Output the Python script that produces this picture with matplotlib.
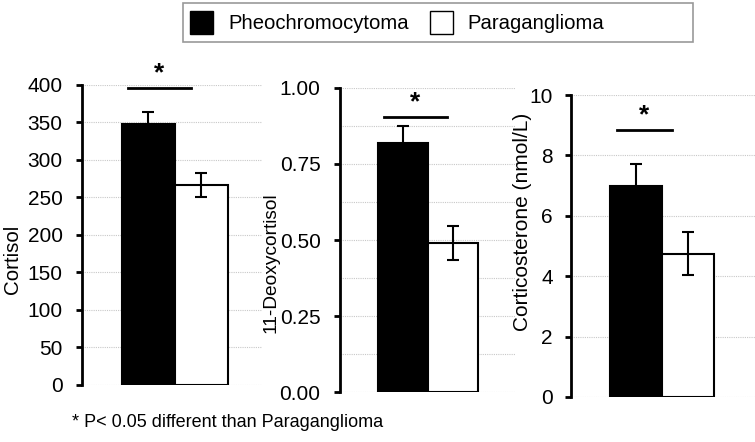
import matplotlib.pyplot as plt
from matplotlib.patches import Patch, Rectangle
from matplotlib import font_manager

names = {f.name for f in font_manager.fontManager.ttflist}
narrow = 'Liberation Sans Narrow' if 'Liberation Sans Narrow' in names else 'Liberation Sans'
plt.rcParams['font.family'] = [narrow, 'DejaVu Sans']

groups = ["Pheochromocytoma", "Paraganglioma"]
labels = ["Cortisol", "11-Deoxycortisol", "Corticosterone (nmol/L)"]
pheo = [348, 0.82, 7.0]
para = [266, 0.49, 4.75]
pheo_err = [16, 0.055, 0.72]
para_err = [16, 0.055, 0.7]
ymax = [400, 1.0, 10]
yticks = [[0, 50, 100, 150, 200, 250, 300, 350, 400],
          [0.0, 0.25, 0.5, 0.75, 1.0],
          [0, 2, 4, 6, 8, 10]]
tick_fmt = ["{:.0f}", "{:.2f}", "{:.0f}"]
grid_step = [50, 0.125, 2]
sig_y = [396, 0.905, 8.84]
sig_x = [(-0.39, 0.80), (-0.38, 0.88), (-0.37, 0.69)]
star_y = [400, 0.912, 8.92]

# axes boxes in figure fractions
boxes = [(0.1086, 0.129, 0.2384, 0.679),
         (0.4503, 0.113, 0.2317, 0.688),
         (0.7563, 0.102, 0.2437, 0.683)]
xlims = [(-1.25, 2.15), (-1.26, 2.24), (-1.25, 2.29)]
label_pos = [(-0.333, 0.42), (-0.345, 0.424), (-0.212, 0.58)]
label_size = [14.8, 13.8, 15.0]
tick_pad = [10, 10, 9]

fig = plt.figure(figsize=(7.55, 4.42), dpi=100)

for i in range(3):
    ax = fig.add_axes(boxes[i])
    for y in [k * grid_step[i] for k in range(int(round(ymax[i] / grid_step[i])) + 1)]:
        ax.axhline(y, color='#c8c8c8', lw=0.8, ls=(0, (1, 1)), zorder=0)
    ax.bar([0], [pheo[i]], width=1.0, color='black', edgecolor='black', lw=1.5, zorder=2)
    ax.bar([1], [para[i]], width=1.0, color='white', edgecolor='black', lw=1.5, zorder=2)
    ax.errorbar([0, 1], [pheo[i], para[i]], yerr=[pheo_err[i], para_err[i]],
                fmt='none', ecolor='black', elinewidth=1.5, capsize=4, capthick=1.5, zorder=3)
    ax.plot(sig_x[i], [sig_y[i], sig_y[i]], color='black', lw=2, clip_on=False, zorder=4)
    ax.text(sum(sig_x[i]) / 2, star_y[i], "*", ha='center', va='bottom',
            fontsize=19, fontweight='bold', family='Liberation Sans')
    ax.set_xlim(*xlims[i])
    ax.set_ylim(0, ymax[i])
    ax.set_yticks(yticks[i])
    ax.set_yticklabels([tick_fmt[i].format(t) for t in yticks[i]], fontsize=15)
    ax.set_xticks([])
    for s in ['top', 'right', 'bottom']:
        ax.spines[s].set_visible(False)
    ax.spines['left'].set_linewidth(2)
    ax.tick_params(axis='y', direction='out', length=4, width=2, pad=tick_pad[i])
    ax.set_ylabel(labels[i], fontsize=label_size[i])
    ax.yaxis.set_label_coords(*label_pos[i])
    ax.patch.set_alpha(0)

# legend frame (drawn by hand, the reference box is wider on the right)
fig.patches.append(Rectangle((183 / 755, 1 - 42 / 442), 510 / 755, 39 / 442,
                             transform=fig.transFigure, facecolor='white',
                             edgecolor='#999999', lw=1.2, zorder=0))
handles = [Patch(facecolor='black', edgecolor='black'),
           Patch(facecolor='white', edgecolor='black')]
leg = fig.legend(handles, groups, loc='center left', bbox_to_anchor=(190 / 755, 1 - 22.5 / 442),
                 ncol=2, fontsize=14.6, frameon=False,
                 handlelength=1.15, handleheight=1.3, handletextpad=0.72,
                 columnspacing=1.05, borderpad=0, borderaxespad=0)

fig.text(0.095, 0.043, "* P< 0.05 different than Paraganglioma", fontsize=13,
         ha='left', va='center')

fig.savefig("out.png", dpi=100, facecolor='white')
